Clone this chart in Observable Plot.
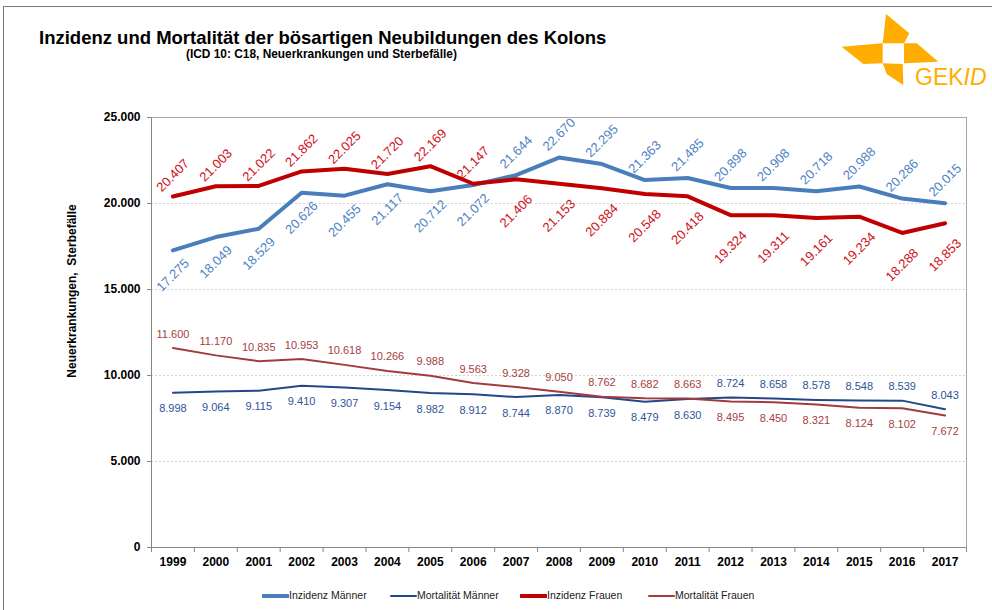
<!DOCTYPE html>
<html><head><meta charset="utf-8">
<script src="https://cdn.jsdelivr.net/npm/d3@7"></script>
<script src="https://cdn.jsdelivr.net/npm/@observablehq/plot@0.6"></script>
<style>
body{margin:0;background:#fff;font-family:"Liberation Sans",Arial,sans-serif;}
#wrap{position:relative;width:992px;height:610px;overflow:hidden;background:#fff;}
#frame{position:absolute;left:3px;top:6px;width:1100px;height:800px;border:1px solid #7a7a7a;}
#title{position:absolute;left:39px;top:27px;font-size:18.5px;font-weight:bold;color:#000;white-space:nowrap;line-height:21px;}
#subtitle{position:absolute;left:186px;top:48px;font-size:11.9px;font-weight:bold;color:#000;white-space:nowrap;line-height:13px;}
#ylab{position:absolute;left:72px;top:291px;transform:translate(-50%,-50%) rotate(-90deg);font-size:12px;font-weight:bold;white-space:nowrap;}
#chart{position:absolute;left:0;top:0;}
#logo{position:absolute;left:0;top:0;}
.leg{position:absolute;top:588px;height:14px;font-size:10.5px;color:#222;white-space:nowrap;line-height:14px;font-family:"Liberation Sans Narrow","Arial Narrow","Liberation Sans",sans-serif;}
.leg svg{vertical-align:middle;}
</style></head><body>
<div id="wrap">
  <div id="frame"></div>
  <svg id="logo" width="992" height="100">
    <g fill="#FFAD00">
      <polygon points="882.7,43.3 886,14 909.3,33.3 904,43.3"/>
      <polygon points="841.7,46.7 882.7,43.3 882.7,63.3 863.3,64"/>
      <polygon points="904,43.3 916.7,43.3 938.3,61.7 904,63.3"/>
      <polygon points="882.7,63.3 902.7,64 903.3,85 886.7,74"/>
      <text x="915" y="85" font-size="23" font-family="Liberation Sans, Arial, sans-serif">GEK<tspan font-style="italic">ID</tspan></text>
    </g>
  </svg>
  <div id="chart"></div>
  <div id="title">Inzidenz und Mortalität der bösartigen Neubildungen des Kolons</div>
  <div id="subtitle">(ICD 10: C18, Neuerkrankungen und Sterbefälle)</div>
  <div id="ylab">Neuerkrankungen,&nbsp; Sterbefälle</div>
  <div id="legend"></div>
</div>
<script>
const years = [1999,2000,2001,2002,2003,2004,2005,2006,2007,2008,2009,2010,2011,2012,2013,2014,2015,2016,2017];
const inzidenzMaenner = [17275,18049,18529,20626,20455,21117,20712,21072,21644,22670,22295,21363,21485,20898,20908,20718,20988,20286,20015];
const mortalitaetMaenner = [8998,9064,9115,9410,9307,9154,8982,8912,8744,8870,8739,8479,8630,8724,8658,8578,8548,8539,8043];
const inzidenzFrauen = [20407,21003,21022,21862,22025,21720,22169,21147,21406,21153,20884,20548,20418,19324,19311,19161,19234,18288,18853];
const mortalitaetFrauen = [11600,11170,10835,10953,10618,10266,9988,9563,9328,9050,8762,8682,8663,8495,8450,8321,8124,8102,7672];
const seriesNames = ["Inzidenz Männer","Mortalität Männer","Inzidenz Frauen","Mortalität Frauen"];
const yTicks = [0,5000,10000,15000,20000,25000];

// styles
const lineColors = ["#4A7EBB","#24478A","#C00000","#A23B3B"];
const labelColors = ["#4F83C4","#2D5597","#D0101A","#A63E3E"];
const lineWidths = [4,2,4,2];

const de = d3.formatLocale({decimal:",",thousands:".",grouping:[3],currency:["","€"]});
const fmt = de.format(",");

const allValues = [inzidenzMaenner,mortalitaetMaenner,inzidenzFrauen,mortalitaetFrauen];
const rows = allValues.map(vals => years.map((year,i)=>({year,value:vals[i]})));
// counterpart series used to decide label side (above if higher than partner)
const partner = [inzidenzFrauen,mortalitaetFrauen,inzidenzMaenner,mortalitaetMaenner];
const boundaries = years.map(y=>y-0.5).concat([years[years.length-1]+0.5]);

const labelFont = "Liberation Sans Narrow, Arial Narrow, Liberation Sans, sans-serif";
const marks = [
  Plot.gridY(yTicks.slice(1), {stroke:"#d4d4d4", strokeOpacity:1, strokeDasharray:"2,2"}),
  Plot.frame({stroke:"#a6a6a6"}),
  Plot.ruleX([boundaries[0]], {stroke:"#868686"}),
  Plot.ruleY([0], {stroke:"#868686"}),
  Plot.axisY(yTicks, {tickSize:4, tickPadding:7, tickFormat:fmt, fontWeight:"bold", fontSize:12, stroke:"#868686", fill:"#000", label:null}),
  Plot.axisX(years, {tickSize:0, tickPadding:10, tickFormat:d=>String(d), fontWeight:"bold", fontSize:12, fill:"#000", label:null}),
  Plot.axisX(boundaries, {tickSize:5, tickFormat:()=>"", stroke:"#868686", label:null})
];
rows.forEach((r,k)=>{
  marks.push(Plot.line(r,{x:"year",y:"value",stroke:lineColors[k],strokeWidth:lineWidths[k],strokeLinejoin:"round",strokeLinecap:"round"}));
});
rows.forEach((r,k)=>{
  const above = r.filter((d,i)=>d.value > partner[k][i]);
  const below = r.filter((d,i)=>d.value <= partner[k][i]);
  const inz = (k % 2 === 0);
  const common = inz
    ? {x:"year",y:"value",text:d=>fmt(d.value),rotate:-45,fill:labelColors[k],fontSize:13,lineAnchor:"middle",textAnchor:"middle"}
    : {x:"year",y:"value",text:d=>fmt(d.value),fill:labelColors[k],fontSize:11,lineAnchor:"middle",textAnchor:"middle",fontFamily:labelFont};
  const up = inz ? (k===0 ? -23 : -21) : -14;
  const down = inz ? (k===0 ? 25 : 32) : 16;
  marks.push(Plot.text(above,{...common,dy:up}));
  marks.push(Plot.text(below,{...common,dy:down}));
});

const chart = Plot.plot({
  width:992, height:575,
  marginLeft:151, marginRight:26, marginTop:117, marginBottom:28,
  style:{fontFamily:"Liberation Sans, Arial, sans-serif", background:"transparent", overflow:"visible"},
  x:{type:"linear", domain:[boundaries[0], boundaries[boundaries.length-1]], axis:null},
  y:{domain:[0,25000], axis:null},
  marks
});
document.getElementById("chart").appendChild(chart);

// legend
const legPos = [262,390,520,648];
const legEl = document.getElementById("legend");
seriesNames.forEach((name,k)=>{
  const d = document.createElement("div");
  d.className = "leg";
  d.style.left = legPos[k]+"px";
  d.innerHTML = `<svg width="27" height="8"><line x1="1" x2="26" y1="4" y2="4" stroke="${lineColors[k]}" stroke-width="${lineWidths[k]}" stroke-linecap="round"/></svg>${name}`;
  legEl.appendChild(d);
});
</script>
</body></html>
